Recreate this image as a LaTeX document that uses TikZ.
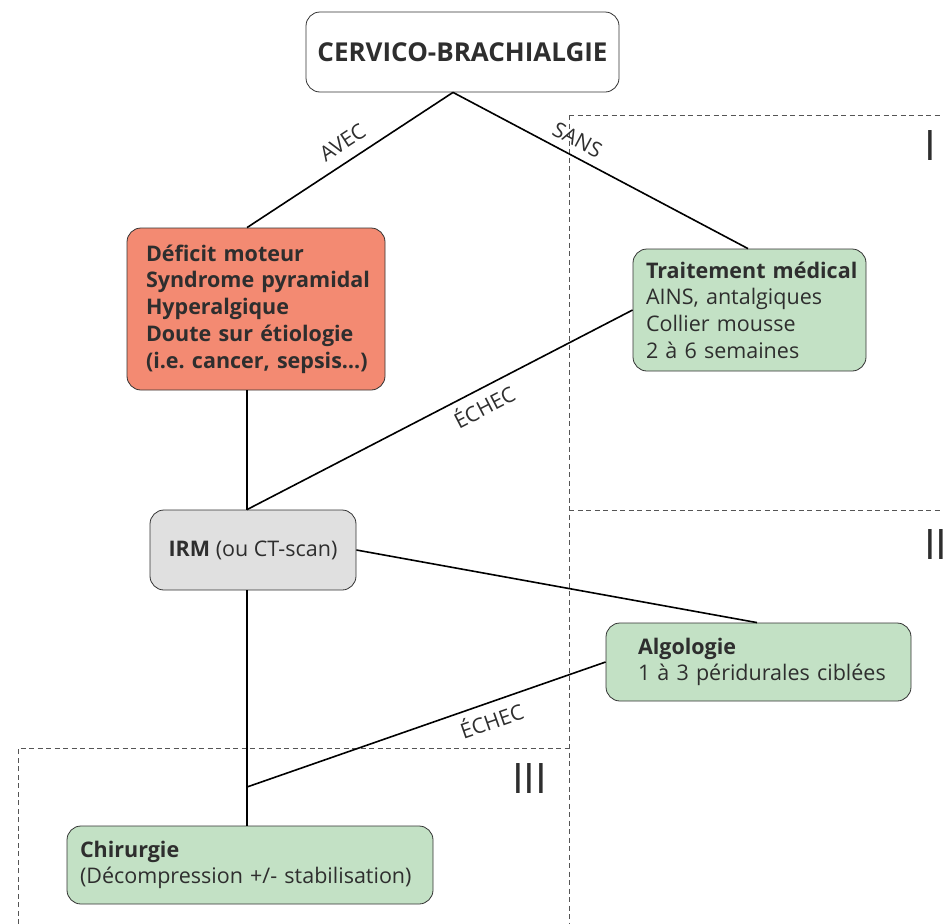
\documentclass[tikz,border=0pt]{standalone}
\usepackage{fontspec}
\setmainfont{Open Sans}
\definecolor{txt}{HTML}{2E2E2E}
\definecolor{edge}{HTML}{333333}
\definecolor{redc}{HTML}{F38A72}
\definecolor{greenc}{HTML}{C3E1C5}
\definecolor{grayc}{HTML}{E0E0E0}
\definecolor{dashc}{HTML}{555555}
\begin{document}
\frenchspacing
\begin{tikzpicture}[x=1pt,y=-1pt,
  box/.style={draw=edge, line width=0.8pt, rounded corners=14pt, text=txt, align=left},
  boxfont/.style={font=\fontsize{21.5}{26.7}\selectfont},
  conn/.style={line width=1.6pt, black},
  lbl/.style={text=txt, font=\fontsize{21}{21}\selectfont, inner sep=0pt, text height=15pt, text depth=0pt, sloped},
  dashline/.style={dashc, line width=0.8pt, dash pattern=on 5pt off 3.5pt},
  roman/.style={text=txt, font=\fontsize{42}{42}\selectfont, inner sep=0pt, anchor=base west}
]
\useasboundingbox (0,0) rectangle (943,924);

% regions
\draw[dashline] (569,115) -- (943,115);
\draw[dashline] (569,115) -- (569,924);
\draw[dashline] (569,510) -- (943,510);
\draw[dashline] (18,924) -- (18,748) -- (569,748);
\node[roman] (r1) at (924,160) {I};
\node[roman] (r2) at (924,559) {II};
\node[roman] (r3) at (512,793) {III};

% nodes
\node[box, fill=white, minimum width=313pt, minimum height=80pt, align=center,
      font=\bfseries\fontsize{26}{30}\selectfont] (top) at (462.5,52) {CERVICO-BRACHIALGIE};
\node[box, boxfont, fill=redc, text width=220pt, inner xsep=19pt, minimum height=162pt] (red) at (256,309)
  {\bfseries Déficit moteur\\\mbox{Syndrome pyramidal}\\Hyperalgique\\Doute sur étiologie\\\mbox{(i.e. cancer, sepsis…)}};
\node[box, boxfont, fill=greenc, text width=207pt, inner xsep=13pt, minimum height=122pt] (trt) at (749.5,310)
  {\mbox{\textbf{Traitement médical}}\\AINS, antalgiques\\Collier mousse\\2 à 6 semaines};
\node[box, boxfont, fill=grayc, minimum width=206pt, minimum height=80pt, align=center] (irm) at (253,550)
  {\textbf{IRM} (ou CT-scan)};
\node[box, boxfont, fill=greenc, text width=241pt, inner xsep=32pt, minimum height=78pt] (alg) at (758.5,662)
  {\textbf{Algologie}\\\mbox{1 à 3 péridurales ciblées}};
\node[box, boxfont, fill=greenc, text width=340pt, inner xsep=13pt, minimum height=78pt] (chir) at (250,865)
  {\textbf{Chirurgie}\\\mbox{(Décompression +/- stabilisation)}};

% spine
\coordinate (sp) at (247,0);
\coordinate (e2) at (247,787);

% connectors
\draw[conn] (red.north -| sp) -- node[lbl, above=10.5pt, pos=0.514] {AVEC} ([xshift=-9.5pt]top.south);
\draw[conn] ([xshift=-9.5pt]top.south) -- node[lbl, above=8pt, pos=0.396] {SANS} ([xshift=-1.5pt]trt.north);
\draw[conn] (red.south -| sp) -- (irm.north -| sp);
\draw[conn] (irm.north -| sp) -- node[lbl, below=10.5pt, pos=0.594] {ÉCHEC} (trt.west);
\draw[conn] (irm.east) -- ([xshift=-1.5pt]alg.north);
\draw[conn] (irm.south -| sp) -- (chir.north -| sp);
\draw[conn] (e2) -- node[lbl, below=10.5pt, pos=0.666] {ÉCHEC} (alg.west);
\end{tikzpicture}
\end{document}
